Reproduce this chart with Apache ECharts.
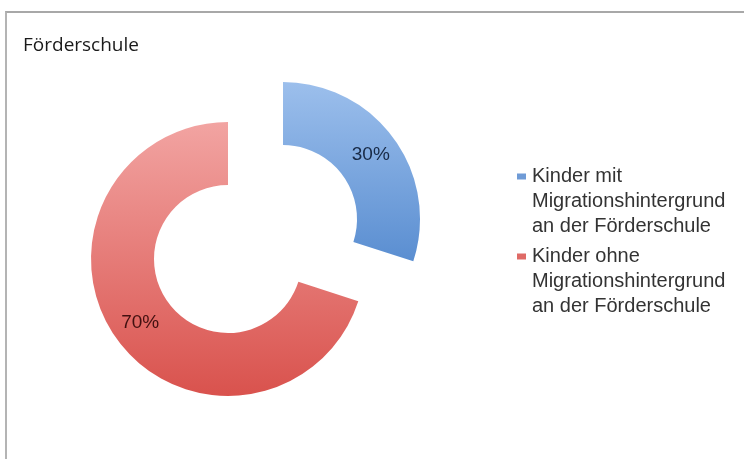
<!DOCTYPE html>
<html>
<head>
    <meta charset="utf-8">
    <title>Förderschule</title>
    <script src="https://cdn.jsdelivr.net/npm/echarts@6/dist/echarts.min.js"></script>
    <style>
        body { margin: 0; background: #fff; }
        #frame { position: absolute; left: 5px; top: 11px; width: 739px; height: 448px;
                 border-top: 2px solid #a8a8a8; border-left: 2px solid #b4b4b4; }
        #main { position: absolute; left: 0; top: 0; width: 744px; height: 459px; }
    </style>
</head>
<body>
    <div id="frame"></div>
    <div id="main"></div>
    <script type="text/javascript">

    // Daten
    var categories = [
        'Kinder mit\nMigrationshintergrund\nan der Förderschule',
        'Kinder ohne\nMigrationshintergrund\nan der Förderschule'
    ];
    var values = [30, 70];
    var chartTitle = 'Förderschule';

    // Farben (oben hell, unten dunkel)
    var topColors = ['#9cbfec', '#f2a4a2'];
    var bottomColors = ['#5a8ed1', '#d9524d'];
    var markerColors = ['#6f9bd6', '#df6a66'];
    var labelColors = ['#182a46', '#421010'];

    var myChart = echarts.init(document.getElementById('main'));

    var pieData = [];
    for (var i = 0; i < categories.length; i++) {
        pieData.push({
            name: categories[i],
            value: values[i],
            selected: i === 0,
            itemStyle: {
                color: new echarts.graphic.LinearGradient(0, 0, 0, 1, [
                    {offset: 0, color: topColors[i]},
                    {offset: 1, color: bottomColors[i]}
                ])
            },
            label: { color: labelColors[i] }
        });
    }

    // Legende: Marker an der ersten Zeile, folgende Zeilen eingerückt
    var rich = {
        g: { width: 6, height: 25, lineHeight: 25 },
        ind: { width: 15, height: 25, lineHeight: 25 }
    };
    for (var k = 0; k < markerColors.length; k++) {
        rich['m' + k] = { width: 9, height: 6, backgroundColor: markerColors[k] };
    }

    var option = {
        animation: false,
        title: {
            text: chartTitle,
            left: 23,
            top: 36,
            padding: 0,
            textStyle: {
                fontFamily: 'Open Sans',
                fontSize: 19,
                fontWeight: 'normal',
                color: '#1a1a1a'
            }
        },
        legend: {
            orient: 'vertical',
            left: 512,
            top: 164,
            padding: 0,
            itemGap: 5,
            itemWidth: 0,
            itemHeight: 0,
            selectedMode: false,
            data: categories,
            formatter: function (name) {
                var idx = categories.indexOf(name);
                var lines = name.split('\n');
                var out = '{m' + idx + '|}{g|}' + lines[0];
                for (var j = 1; j < lines.length; j++) {
                    out += '\n{ind|}' + lines[j];
                }
                return out;
            },
            textStyle: {
                fontFamily: 'Liberation Sans',
                fontSize: 20,
                lineHeight: 25,
                color: '#333333',
                rich: rich
            }
        },
        series: [
            {
                type: 'pie',
                center: [228, 259],
                radius: [74, 137],
                startAngle: 90,
                clockwise: true,
                selectedMode: 'single',
                selectedOffset: 68,
                avoidLabelOverlap: false,
                label: {
                    show: true,
                    position: 'inside',
                    formatter: '{c}%',
                    fontFamily: 'Liberation Sans',
                    fontSize: 19
                },
                labelLine: { show: false },
                emphasis: { disabled: true },
                data: pieData
            }
        ]
    };

    myChart.setOption(option);
    </script>
</body>
</html>
